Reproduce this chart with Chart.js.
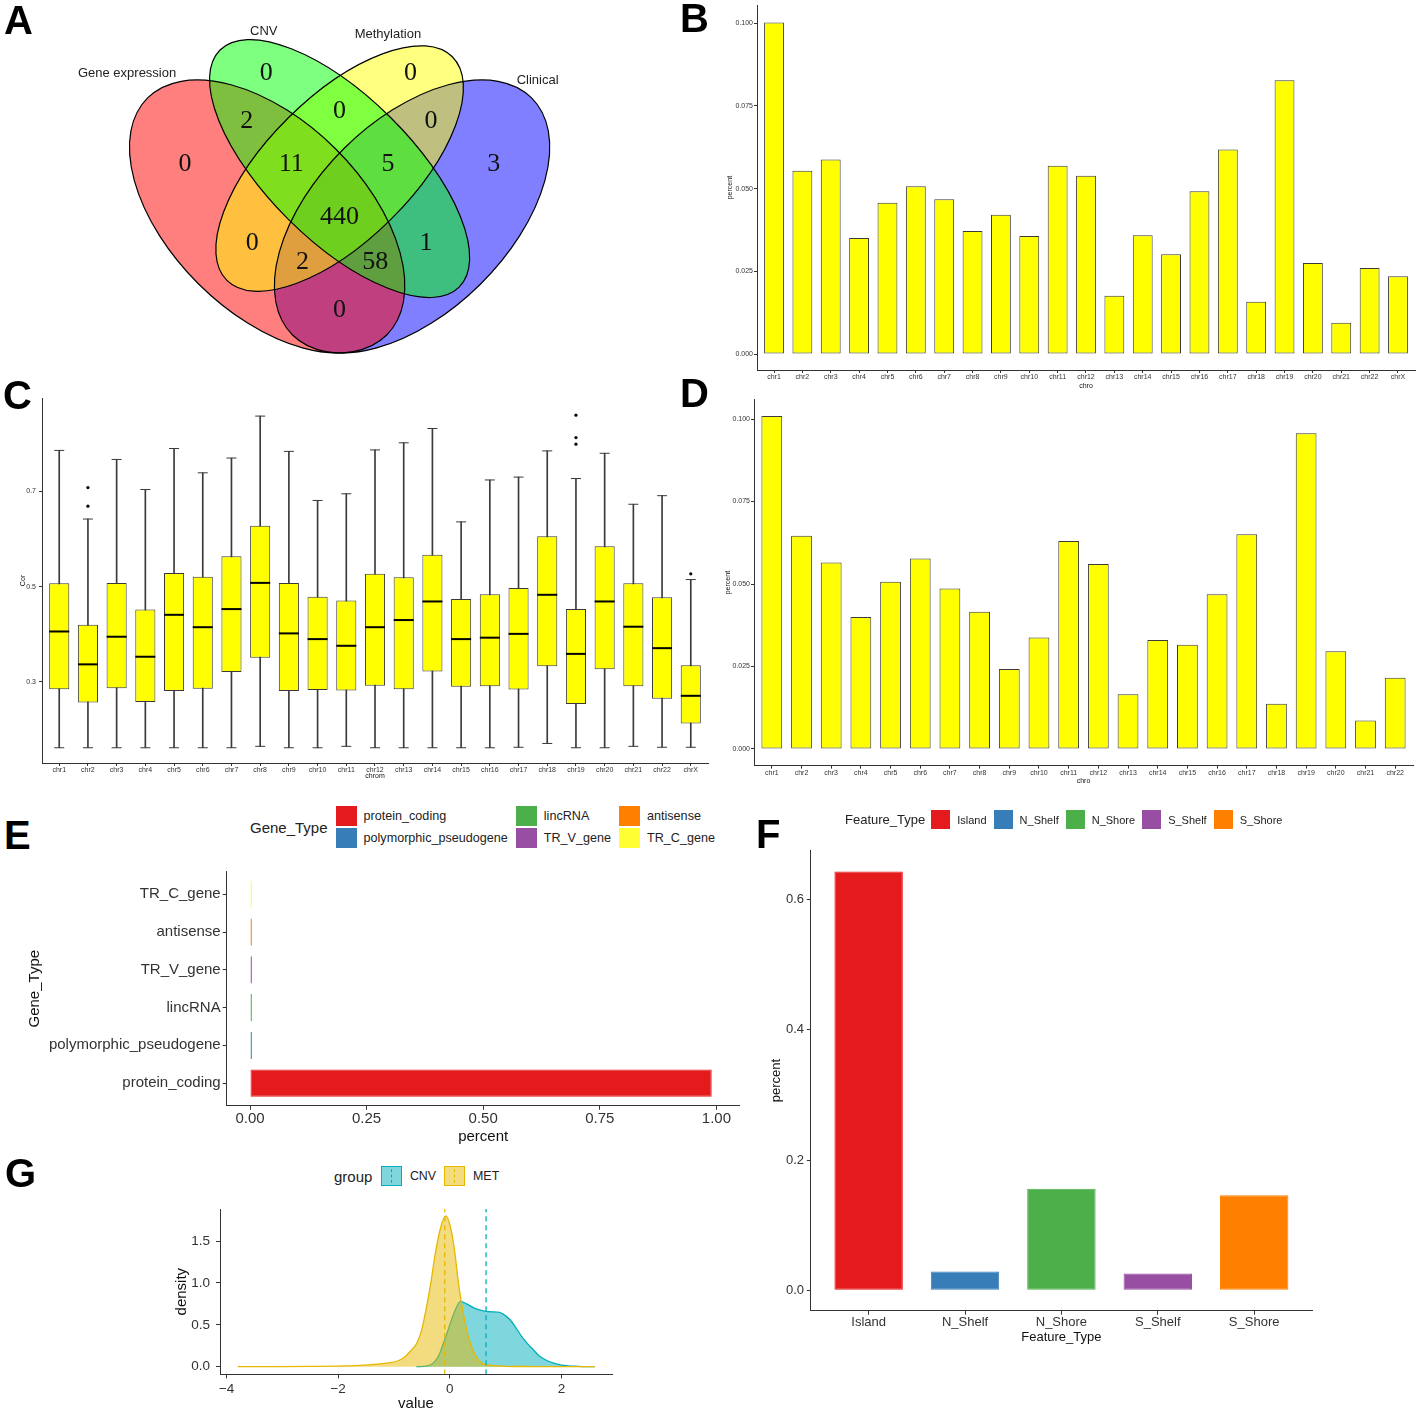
<!DOCTYPE html>
<html>
<head>
<meta charset="utf-8">
<title>Multi-omics feature summary</title>
<script src="https://cdn.jsdelivr.net/npm/chart.js@4.4.1/dist/chart.umd.min.js"></script>
<style>
  body { margin: 0; background: #fff; }
  #page { position: relative; width: 1418px; height: 1413px; overflow: hidden; font-family: 'Liberation Sans', Arial, sans-serif; color: #222; }
  .panel { position: absolute; }
  .panel canvas { display: block; }
  .tag { position: absolute; font: bold 40px/40px 'Liberation Sans', Arial, sans-serif; color: #000; }
  .legend { position: absolute; display: flex; align-items: center; white-space: nowrap; color: #222; }
  .key { box-sizing: border-box; position: relative; flex: none; }
  .grid2 { display: grid; grid-template-rows: 20px 20px; row-gap: 2px; grid-auto-flow: column; column-gap: 8px; }
  .item { display: flex; align-items: center; }
</style>
</head>
<body>
<div id="page">
  <div class="panel" id="pA" style="left:0;top:0"><canvas id="venn" width="600" height="380"></canvas></div>
  <div class="panel" id="pB" style="left:700px;top:0"><canvas id="chartB" width="718" height="400"></canvas></div>
  <div class="panel" id="pC" style="left:0;top:380px"><canvas id="chartC" width="720" height="400"></canvas></div>
  <div class="panel" id="pD" style="left:700px;top:390px"><canvas id="chartD" width="718" height="410"></canvas></div>
  <div class="panel" id="pE" style="left:0;top:860px"><canvas id="chartE" width="745" height="290"></canvas></div>
  <div class="panel" id="pF" style="left:740px;top:840px"><canvas id="chartF" width="600" height="510"></canvas></div>
  <div class="panel" id="pG" style="left:0;top:1190px"><canvas id="chartG" width="620" height="223"></canvas></div>

  <div class="legend" id="legE" style="left:250px;top:806px;height:42px"></div>
  <div class="legend" id="legF" style="left:845px;top:810px;height:19px"></div>
  <div class="legend" id="legG" style="left:334px;top:1166px;height:20px"></div>

  <div class="tag" style="left:4px;top:0">A</div>
  <div class="tag" style="left:680px;top:-2px">B</div>
  <div class="tag" style="left:3px;top:375px">C</div>
  <div class="tag" style="left:680px;top:373px">D</div>
  <div class="tag" style="left:4px;top:815px">E</div>
  <div class="tag" style="left:756px;top:814px">F</div>
  <div class="tag" style="left:5px;top:1153px">G</div>
</div>
<script>
// ---------- data ----------
const vennSets = ['Gene expression', 'CNV', 'Methylation', 'Clinical'];
const vennRegions = ['GE', 'CNV', 'MET', 'CLI', 'GE+CNV', 'CNV+MET', 'MET+CLI', 'GE+CNV+MET',
  'CNV+MET+CLI', 'ALL', 'GE+MET', 'CNV+CLI', 'GE+MET+CLI', 'GE+CNV+CLI', 'GE+CLI'];
const vennCounts = [0, 0, 0, 3, 2, 0, 0, 11, 5, 440, 0, 1, 2, 58, 0];

const chromB = ['chr1', 'chr2', 'chr3', 'chr4', 'chr5', 'chr6', 'chr7', 'chr8', 'chr9', 'chr10', 'chr11', 'chr12',
  'chr13', 'chr14', 'chr15', 'chr16', 'chr17', 'chr18', 'chr19', 'chr20', 'chr21', 'chr22', 'chrX'];
const pctB = [0.1002, 0.0554, 0.0588, 0.0351, 0.0457, 0.0507, 0.0468, 0.0372, 0.0421, 0.0357, 0.0569, 0.0539,
  0.0176, 0.0359, 0.0302, 0.0492, 0.0618, 0.0158, 0.0827, 0.0275, 0.0095, 0.0260, 0.0235];

const chromC = chromB;
const corHigh = [0.786, 0.642, 0.767, 0.704, 0.790, 0.739, 0.770, 0.858, 0.784, 0.681, 0.695, 0.787,
  0.802, 0.832, 0.636, 0.724, 0.730, 0.785, 0.727, 0.780, 0.673, 0.691, 0.515];
const corQ3 = [0.507, 0.420, 0.508, 0.452, 0.529, 0.521, 0.564, 0.628, 0.508, 0.479, 0.471, 0.527,
  0.520, 0.567, 0.474, 0.484, 0.497, 0.606, 0.453, 0.585, 0.507, 0.478, 0.335];
const corMed = [0.406, 0.337, 0.395, 0.353, 0.441, 0.415, 0.453, 0.508, 0.402, 0.390, 0.376, 0.415,
  0.430, 0.469, 0.390, 0.393, 0.401, 0.483, 0.359, 0.469, 0.416, 0.371, 0.271];
const corQ1 = [0.285, 0.257, 0.287, 0.258, 0.281, 0.286, 0.321, 0.351, 0.281, 0.283, 0.282, 0.292,
  0.285, 0.322, 0.290, 0.291, 0.284, 0.333, 0.254, 0.327, 0.291, 0.265, 0.213];
const corLow = [0.162, 0.162, 0.162, 0.162, 0.162, 0.162, 0.162, 0.165, 0.162, 0.162, 0.165, 0.162,
  0.162, 0.162, 0.162, 0.162, 0.163, 0.171, 0.162, 0.162, 0.165, 0.163, 0.163];
const corOutChrom = ['chr2', 'chr2', 'chr19', 'chr19', 'chr19', 'chrX'];
const corOutVal = [0.708, 0.669, 0.860, 0.813, 0.799, 0.527];
const corTicks = [0.3, 0.5, 0.7];

const chromD = ['chr1', 'chr2', 'chr3', 'chr4', 'chr5', 'chr6', 'chr7', 'chr8', 'chr9', 'chr10', 'chr11', 'chr12',
  'chr13', 'chr14', 'chr15', 'chr16', 'chr17', 'chr18', 'chr19', 'chr20', 'chr21', 'chr22'];
const pctD = [0.1009, 0.0646, 0.0565, 0.0400, 0.0507, 0.0577, 0.0486, 0.0416, 0.0242, 0.0338, 0.0630, 0.0561,
  0.0166, 0.0330, 0.0316, 0.0469, 0.0651, 0.0137, 0.0957, 0.0296, 0.0086, 0.0216];
const pctTicks = [0, 0.025, 0.05, 0.075, 0.1];

const geneTypes = ['protein_coding', 'polymorphic_pseudogene', 'lincRNA', 'TR_V_gene', 'antisense', 'TR_C_gene'];
const geneFrac = [0.99, 0.004, 0.004, 0.004, 0.004, 0.004];
const geneColors = ['#E41A1C', '#377EB8', '#4DAF4A', '#984EA3', '#FF7F00', '#FFFF33'];
const geneTicks = [0, 0.25, 0.5, 0.75, 1];

const featTypes = ['Island', 'N_Shelf', 'N_Shore', 'S_Shelf', 'S_Shore'];
const featFrac = [0.643, 0.029, 0.156, 0.026, 0.146];
const featColors = ['#E41A1C', '#377EB8', '#4DAF4A', '#984EA3', '#FF7F00'];
const featTicks = [0, 0.2, 0.4, 0.6];

const groups = ['CNV', 'MET'];
const groupColors = ['#00AFBB', '#E7B800'];
const groupFills = ['rgba(0,175,187,0.5)', 'rgba(231,184,0,0.5)'];
const groupMeans = [0.65, -0.09];
const cnvX = [-0.6, -0.4, -0.3, -0.2, -0.13, -0.05, 0.01, 0.1, 0.19, 0.3, 0.44, 0.55, 0.65, 0.75, 0.87, 0.95,
  1.08, 1.18, 1.29, 1.4, 1.5, 1.6, 1.72, 1.85, 2.0, 2.3, 2.6];
const cnvY = [0.0, 0.01, 0.04, 0.13, 0.25, 0.4, 0.52, 0.68, 0.78, 0.75, 0.70, 0.675, 0.66, 0.655, 0.65, 0.63,
  0.56, 0.47, 0.36, 0.27, 0.2, 0.13, 0.08, 0.045, 0.02, 0.004, 0.0];
const metX = [-3.8, -3.0, -2.5, -2.0, -1.6, -1.3, -1.1, -0.95, -0.8, -0.7, -0.6, -0.52, -0.45, -0.34, -0.27,
  -0.16, -0.07, 0.01, 0.085, 0.155, 0.23, 0.33, 0.44, 0.58, 0.75, 1.0, 1.5, 2.0, 2.6];
const metY = [0.0, 0.002, 0.004, 0.008, 0.015, 0.03, 0.045, 0.065, 0.12, 0.19, 0.27, 0.4, 0.6, 1.0, 1.31,
  1.67, 1.80, 1.67, 1.39, 1.0, 0.68, 0.36, 0.16, 0.04, 0.015, 0.005, 0.002, 0.001, 0.0];
const valueTicks = [-4, -2, 0, 2];
const densityTicks = [0, 0.5, 1, 1.5];

// ---------- shared setup ----------
Chart.defaults.font.family = "'Liberation Sans', Arial, sans-serif";
Chart.defaults.color = '#333';
Chart.defaults.animation = false;
Chart.defaults.responsive = false;
Chart.defaults.plugins.legend.display = false;
Chart.defaults.plugins.tooltip.enabled = false;

const INK = '#333';

// ggplot-like axis: fixed size, explicit ticks, only the axis line and outside tick marks
function axis(o) {
  return {
    type: 'linear', min: o.min, max: o.max, offset: false,
    afterBuildTicks: s => { s.ticks = o.ticks.map(v => ({ value: v })); },
    afterFit: s => {
      if (o.width != null) s.width = o.width;
      if (o.height != null) s.height = o.height;
    },
    ticks: { callback: o.fmt, font: { size: o.size }, color: INK, padding: o.pad ?? 0, autoSkip: false, maxRotation: 0 },
    grid: { drawOnChartArea: false, drawTicks: true, tickLength: o.tickLen ?? 3, color: INK, lineWidth: 1, offset: false },
    border: { display: true, color: INK, width: 1 },
    title: {
      display: !!o.title, text: o.title, color: '#111',
      font: { size: o.titleSize ?? o.size }, padding: o.titlePad ?? 0
    }
  };
}

// ---------- A: Venn diagram ----------
const vennLabelPos = [[0.180, 0.581], [0.348, 0.772], [0.647, 0.772], [0.819, 0.581], [0.308, 0.670],
  [0.5, 0.692], [0.689, 0.670], [0.400, 0.581], [0.600, 0.581], [0.5, 0.470], [0.319, 0.417],
  [0.679, 0.417], [0.423, 0.377], [0.574, 0.377], [0.5, 0.276]];
const vennNamePos = [[0.06, 0.769], [0.343, 0.857], [0.600, 0.849], [0.910, 0.755]];
// drawing order: Clinical, Gene expression, Methylation, CNV
const vennShapes = [
  { cx: 0.65, cy: 0.47, a: 0.35, b: 0.20, rot: 45, color: '#0000ff' },
  { cx: 0.35, cy: 0.47, a: 0.35, b: 0.20, rot: 135, color: '#ff0000' },
  { cx: 0.50, cy: 0.57, a: 0.33, b: 0.15, rot: 45, color: '#ffff00' },
  { cx: 0.50, cy: 0.57, a: 0.35, b: 0.15, rot: 135, color: '#00ff00' }
];

const vennPlugin = {
  id: 'venn',
  beforeDatasetsDraw(chart) {
    const { ctx, scales: { x, y } } = chart;
    const sx = x.getPixelForValue(1) - x.getPixelForValue(0);
    const sy = y.getPixelForValue(0) - y.getPixelForValue(1);
    const path = e => {
      ctx.beginPath();
      ctx.save();
      ctx.translate(x.getPixelForValue(e.cx), y.getPixelForValue(e.cy));
      ctx.scale(sx, -sy);
      ctx.rotate(e.rot * Math.PI / 180);
      ctx.ellipse(0, 0, e.a, e.b, 0, 0, Math.PI * 2);
      ctx.restore();
    };
    ctx.save();
    vennShapes.forEach(e => { path(e); ctx.globalAlpha = 0.5; ctx.fillStyle = e.color; ctx.fill(); });
    ctx.globalAlpha = 1;
    ctx.strokeStyle = '#000';
    ctx.lineWidth = 1.2;
    vennShapes.forEach(e => { path(e); ctx.stroke(); });
    ctx.fillStyle = '#222';
    ctx.font = "13px 'Liberation Sans', Arial, sans-serif";
    ctx.textAlign = 'center';
    ctx.textBaseline = 'middle';
    vennSets.forEach((s, i) => ctx.fillText(s, x.getPixelForValue(vennNamePos[i][0]), y.getPixelForValue(vennNamePos[i][1])));
    ctx.restore();
  },
  afterDatasetsDraw(chart) {
    const { ctx } = chart;
    const pts = chart.getDatasetMeta(0).data;
    ctx.save();
    ctx.fillStyle = '#111';
    ctx.font = "26px 'Liberation Serif', 'Times New Roman', serif";
    ctx.textAlign = 'center';
    ctx.textBaseline = 'middle';
    vennCounts.forEach((c, i) => ctx.fillText(String(c), pts[i].x, pts[i].y + 1));
    ctx.restore();
  }
};

new Chart(document.getElementById('venn'), {
  type: 'scatter',
  data: {
    labels: vennRegions,
    datasets: [{ data: vennCounts.map((c, i) => ({ x: vennLabelPos[i][0], y: vennLabelPos[i][1] })), pointRadius: 0 }]
  },
  options: {
    layout: { padding: 0 },
    scales: {
      x: { type: 'linear', min: -0.2031, max: 1.0391, display: false },
      y: { type: 'linear', min: 0.1286, max: 0.9219, display: false }
    }
  },
  plugins: [vennPlugin]
});

// ---------- B and D: chromosome bar charts ----------
function chromBars(id, chroms, values, lay) {
  return new Chart(document.getElementById(id), {
    type: 'bar',
    data: {
      datasets: [{
        data: chroms.map((c, i) => ({ x: i, y: values[i] })),
        backgroundColor: '#FFFF00', borderColor: '#3b3b3b', borderWidth: 1, borderSkipped: false,
        barPercentage: 0.7, categoryPercentage: 1
      }]
    },
    options: {
      layout: { padding: lay.padding },
      scales: {
        x: axis({ min: -0.6, max: chroms.length - 0.4, ticks: chroms.map((c, i) => i), fmt: v => chroms[v],
          size: 7, title: 'chro', height: lay.xh }),
        y: axis({ min: lay.ymin, max: lay.ymax, ticks: pctTicks, fmt: v => v.toFixed(3), size: 7, pad: 1,
          title: 'percent', titlePad: { top: lay.tp }, width: lay.yw })
      }
    }
  });
}

chromBars('chartB', chromB, pctB,
  { padding: { top: 5, right: 3, bottom: 10, left: 0 }, xh: 20, yw: 57, ymin: -0.0048, ymax: 0.1054, tp: 26 });
chromBars('chartD', chromD, pctD,
  { padding: { top: 9.6, right: 5, bottom: 14.8, left: 0 }, xh: 19.6, yw: 54, ymin: -0.00505, ymax: 0.1059, tp: 24 });

// ---------- C: correlation box plots ----------
const idxC = chromC.map((c, i) => i);
new Chart(document.getElementById('chartC'), {
  type: 'bar',
  data: {
    datasets: [
      { type: 'bar', data: idxC.map(i => ({ x: i, y: [corLow[i], corHigh[i]] })), backgroundColor: '#3a3a3a',
        barThickness: 1, grouped: false, order: 3 },
      { type: 'bar', data: idxC.map(i => ({ x: i, y: [corQ1[i], corQ3[i]] })), backgroundColor: '#FFFF00',
        borderColor: '#3a3a3a', borderWidth: 1, borderSkipped: false, barPercentage: 0.7, categoryPercentage: 1,
        grouped: false, order: 2 },
      { type: 'line', data: idxC.flatMap(i => [{ x: i, y: corLow[i] }, { x: i, y: corHigh[i] }]), showLine: false,
        pointStyle: 'line', pointRadius: 5, pointBorderWidth: 1, pointBorderColor: '#3a3a3a', order: 1 },
      { type: 'line', data: idxC.map(i => ({ x: i, y: corMed[i] })), showLine: false,
        pointStyle: 'line', pointRadius: 10, pointBorderWidth: 2, pointBorderColor: '#000', order: 0 },
      { type: 'line', data: corOutChrom.map((c, k) => ({ x: chromC.indexOf(c), y: corOutVal[k] })), showLine: false,
        pointStyle: 'circle', pointRadius: 1.6, pointBackgroundColor: '#000', pointBorderWidth: 0, order: 0 }
    ]
  },
  options: {
    layout: { padding: { top: 18, right: 11, bottom: 0, left: 0 } },
    scales: {
      x: axis({ min: -0.6, max: chromC.length - 0.4, ticks: idxC, fmt: v => chromC[v], size: 7,
        title: 'chrom', height: 17 }),
      y: axis({ min: 0.130, max: 0.896, ticks: corTicks, fmt: v => v.toFixed(1), size: 7, pad: 3,
        title: 'Cor', titlePad: { top: 19 }, width: 42 })
    }
  }
});

// ---------- E: gene type proportions ----------
new Chart(document.getElementById('chartE'), {
  type: 'bar',
  data: {
    datasets: [{
      data: geneTypes.map((g, i) => ({ x: geneFrac[i], y: i })),
      backgroundColor: geneColors, borderColor: geneColors, borderWidth: 1, borderSkipped: false,
      barPercentage: 0.72, categoryPercentage: 1
    }]
  },
  options: {
    indexAxis: 'y',
    layout: { padding: { top: 11.7, right: 5.3, bottom: 4.3, left: 0 } },
    scales: {
      x: axis({ min: -0.05, max: 1.05, ticks: geneTicks, fmt: v => v.toFixed(2), size: 15, tickLen: 4,
        title: 'percent', height: 40 }),
      y: axis({ min: -0.6, max: geneTypes.length - 0.4, ticks: geneTypes.map((g, i) => i), fmt: v => geneTypes[v],
        size: 15, tickLen: 4, pad: 2, title: 'Gene_Type', titlePad: { top: 26 }, width: 226.7 })
    }
  }
});

// ---------- F: CpG feature proportions ----------
new Chart(document.getElementById('chartF'), {
  type: 'bar',
  data: {
    datasets: [{
      data: featTypes.map((f, i) => ({ x: i, y: featFrac[i] })),
      backgroundColor: featColors, borderColor: featColors, borderWidth: 1, borderSkipped: false,
      barPercentage: 0.71, categoryPercentage: 1
    }]
  },
  options: {
    layout: { padding: { top: 9.3, right: 28, bottom: 4.5, left: 0 } },
    scales: {
      x: axis({ min: -0.6, max: featTypes.length - 0.4, ticks: featTypes.map((f, i) => i), fmt: v => featTypes[v],
        size: 13, tickLen: 4, title: 'Feature_Type', height: 34.8 }),
      y: axis({ min: -0.0312, max: 0.675, ticks: featTicks, fmt: v => v.toFixed(1), size: 13, tickLen: 4, pad: 2.8,
        title: 'percent', titlePad: { top: 29 }, width: 70.8 })
    }
  }
});

// ---------- G: density of CNV / MET values ----------
const yMinG = -0.0907, yMaxG = 1.882;
const densities = [cnvX.map((x, i) => ({ x, y: cnvY[i] })), metX.map((x, i) => ({ x, y: metY[i] }))];
new Chart(document.getElementById('chartG'), {
  type: 'scatter',
  data: {
    datasets: [
      ...groups.map((g, k) => ({
        data: densities[k], showLine: true, pointRadius: 0, borderColor: groupColors[k], borderWidth: 1.3,
        backgroundColor: groupFills[k], fill: 'origin', cubicInterpolationMode: 'monotone', order: 2 - k
      })),
      ...groups.map((g, k) => ({
        data: [{ x: groupMeans[k], y: yMinG }, { x: groupMeans[k], y: yMaxG }], showLine: true, pointRadius: 0,
        borderColor: groupColors[k], borderWidth: 1.3, borderDash: [5, 4], fill: false, order: 0
      }))
    ]
  },
  options: {
    layout: { padding: { top: 19, right: 8, bottom: 0, left: 0 } },
    scales: {
      x: axis({ min: -4.118, max: 2.907, ticks: valueTicks, fmt: v => (v < 0 ? '\u2212' + Math.abs(v) : String(v)),
        size: 13.5, tickLen: 4, pad: 2.6, title: 'value', titleSize: 15, height: 38.7 }),
      y: axis({ min: yMinG, max: yMaxG, ticks: densityTicks, fmt: v => v.toFixed(1), size: 13.5, tickLen: 4, pad: 6,
        title: 'density', titleSize: 15, titlePad: { top: 173 }, width: 220 })
    }
  }
});

// ---------- legends ----------
function el(tag, css, text) {
  const e = document.createElement(tag);
  if (css) e.style.cssText = css;
  if (text != null) e.textContent = text;
  return e;
}

// E: title + 3 columns x 2 rows
const legE = document.getElementById('legE');
legE.appendChild(el('span', 'font-size:15px;margin-right:8px', 'Gene_Type'));
const gridE = el('div');
gridE.className = 'grid2';
geneTypes.forEach((g, i) => {
  const it = el('div');
  it.className = 'item';
  const k = el('div', `width:21px;height:20px;background:${geneColors[i]};margin-right:7px`);
  k.className = 'key';
  it.appendChild(k);
  it.appendChild(el('span', 'font-size:12.6px', g));
  gridE.appendChild(it);
});
legE.appendChild(gridE);

// F: single row
const legF = document.getElementById('legF');
legF.appendChild(el('span', 'font-size:13px;margin-right:6px', 'Feature_Type'));
featTypes.forEach((f, i) => {
  const k = el('div', `width:19px;height:19px;background:${featColors[i]};margin-right:7px`);
  k.className = 'key';
  legF.appendChild(k);
  legF.appendChild(el('span', 'font-size:11px;margin-right:7px', f));
});

// G: fill keys with dashed mean line
const legG = document.getElementById('legG');
legG.appendChild(el('span', 'font-size:15px;margin-right:8.5px', 'group'));
groups.forEach((g, i) => {
  const k = el('div', `width:21px;height:20px;background:${groupFills[i]};border:1px solid ${groupColors[i]};margin-right:8px`);
  k.className = 'key';
  k.appendChild(el('div', `position:absolute;left:9px;top:2px;height:14px;border-left:1px dashed ${groupColors[i]}`));
  legG.appendChild(k);
  legG.appendChild(el('span', 'font-size:12.4px;margin-right:8px', g));
});
</script>
</body>
</html>
